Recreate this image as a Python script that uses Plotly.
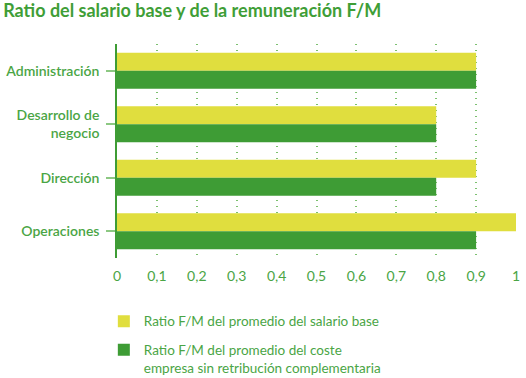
import plotly.graph_objects as go

categories = ["Administración", "Desarrollo de<br>negocio", "Dirección", "Operaciones"]
salario_base = [0.9, 0.8, 0.9, 1.0]
coste_empresa = [0.9, 0.8, 0.8, 0.9]
series_names = ["Ratio F/M del promedio del salario base",
                "Ratio F/M del promedio del coste<br>empresa sin retribución complementaria"]
x_ticks = [0, 0.1, 0.2, 0.3, 0.4, 0.5, 0.6, 0.7, 0.8, 0.9, 1]
x_tick_labels = ["0", "0,1", "0,2", "0,3", "0,4", "0,5", "0,6", "0,7", "0,8", "0,9", "1"]

YELLOW = "#E0DE3E"
GREEN = "#3E9C35"
TEXT = "#4AA545"
FONT = "Lato"

fig = go.Figure()
fig.add_trace(go.Bar(y=categories, x=salario_base, orientation="h", name=series_names[0],
                     legendgroup="a",
                     marker=dict(color=YELLOW, line=dict(width=0))))
fig.add_trace(go.Bar(y=categories, x=coste_empresa, orientation="h", name=series_names[1],
                     legendgroup="b",
                     marker=dict(color=GREEN, line=dict(width=0))))

fig.update_layout(
    width=526, height=378,
    margin=dict(l=117, r=10, t=44, b=120, autoexpand=False),
    paper_bgcolor="white", plot_bgcolor="white",
    barmode="group", bargap=0.33, bargroupgap=0,
    font=dict(family=FONT, color=TEXT),
    title=dict(text="<b>Ratio del salario base y de la remuneración F/M</b>",
               x=0.006, xanchor="left", y=0.971, yanchor="middle",
               font=dict(family=FONT, size=18, color="#3F9E37")),
    legend=dict(x=-0.033, xanchor="left", y=-0.224, yanchor="top",
                orientation="v", traceorder="grouped", valign="top",
                font=dict(family=FONT, size=13.5, color=TEXT),
                tracegroupgap=8, bgcolor="rgba(0,0,0,0)"),
    showlegend=True,
)
fig.update_xaxes(range=[0, 1], tickvals=x_ticks, ticktext=x_tick_labels,
                 showgrid=True, gridcolor="#7CC06F", griddash="1px,5px", gridwidth=1.5,
                 zeroline=False, showline=False, ticks="", ticklabelstandoff=8,
                 automargin=False,
                 tickfont=dict(family=FONT, size=14, color=TEXT), fixedrange=True)
fig.update_yaxes(autorange="reversed", showgrid=False, showline=True, linecolor=GREEN,
                 linewidth=1.5, ticks="outside", ticklen=9, tickcolor="#8CC882", tickwidth=1.5,
                 automargin=False,
                 tickfont=dict(family=FONT, size=14, color=TEXT, weight=600), ticklabelstandoff=4)

fig.write_html("out.html")
